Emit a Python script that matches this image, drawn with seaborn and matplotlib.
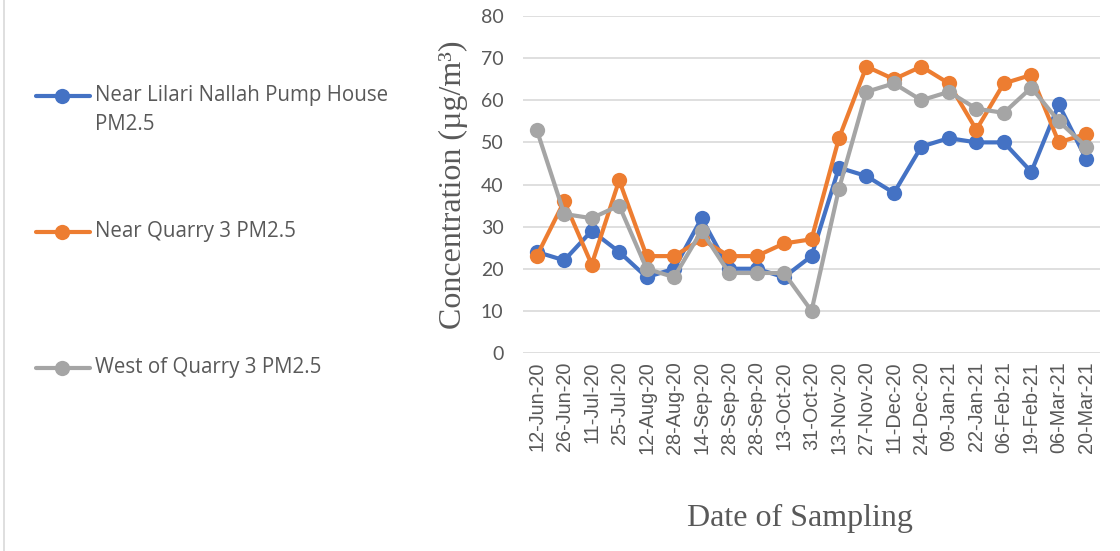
import pandas as pd
import matplotlib.pyplot as plt
from matplotlib.lines import Line2D
import seaborn as sns

# sampling dates (as printed on the chart, including the repeated 28-Sep-20)
dates = ['12-Jun-20', '26-Jun-20', '11-Jul-20', '25-Jul-20', '12-Aug-20',
         '28-Aug-20', '14-Sep-20', '28-Sep-20', '28-Sep-20', '13-Oct-20',
         '31-Oct-20', '13-Nov-20', '27-Nov-20', '11-Dec-20', '24-Dec-20',
         '09-Jan-21', '22-Jan-21', '06-Feb-21', '19-Feb-21', '06-Mar-21',
         '20-Mar-21']

lilari = [24, 22, 29, 24, 18, 20, 32, 20, 20, 18, 23,
          44, 42, 38, 49, 51, 50, 50, 43, 59, 46]
quarry3 = [23, 36, 21, 41, 23, 23, 27, 23, 23, 26, 27,
           51, 68, 65, 68, 64, 53, 64, 66, 50, 52]
west_quarry3 = [53, 33, 32, 35, 20, 18, 29, 19, 19, 19, 10,
                39, 62, 64, 60, 62, 58, 57, 63, 55, 49]

series_names = ['Near Lilari Nallah Pump House PM2.5',
                'Near Quarry 3 PM2.5',
                'West of Quarry 3 PM2.5']
colors = ['#4472C4', '#ED7D31', '#A5A5A5']

# long-form table for seaborn
frames = []
for name, vals in zip(series_names, [lilari, quarry3, west_quarry3]):
    frames.append(pd.DataFrame({'pos': range(len(dates)), 'value': vals, 'series': name}))
df = pd.concat(frames, ignore_index=True)

sns.set_style('white')
plt.rcParams['font.family'] = ['Liberation Sans', 'DejaVu Sans']

W, H = 1120, 551
fig = plt.figure(figsize=(W / 100, H / 100), dpi=100)
ax = fig.add_axes([523 / W, 1 - 353 / H, (1100 - 523) / W, (353 - 16) / H])

sns.lineplot(data=df, x='pos', y='value', hue='series', hue_order=series_names,
             palette=colors, marker='o', markersize=11, markeredgewidth=0,
             linewidth=3, legend=False, ax=ax, zorder=3)

ax.set_xlim(-0.5, len(dates) - 0.5)
ax.set_ylim(0, 80)
ax.set_yticks(range(0, 81, 10))
ax.set_xticks(range(len(dates)))
ax.set_xticklabels(dates, rotation=90)
ax.yaxis.grid(True, color='#D9D9D9', linewidth=1.2)
ax.xaxis.grid(False)
for s in ax.spines.values():
    s.set_visible(False)
ax.tick_params(axis='x', length=0, pad=6, labelsize=14.3, labelcolor='#595959')
ax.tick_params(axis='y', length=0, pad=14, labelsize=14, labelcolor='#595959')
for lbl in ax.get_yticklabels():
    lbl.set_family(['Lato', 'DejaVu Sans'])

ax.set_xlabel('Date of Sampling', family=['Liberation Serif'], fontsize=23,
              color='#595959', va='center')
ax.xaxis.set_label_coords((800 - 523) / 577, (353 - 518) / 337)
ax.set_ylabel('Concentration (µg/m³)', family=['Liberation Serif'], fontsize=23,
              color='#595959', labelpad=9)

# chart border on the left
fig.add_artist(Line2D([4 / W, 4 / W], [0, 1], color='#D9D9D9', linewidth=1.2))

# legend, laid out like the spreadsheet legend on the left side
legend_rows = [(96, ['Near Lilari Nallah Pump House', 'PM2.5']),
               (232, ['Near Quarry 3 PM2.5']),
               (368, ['West of Quarry 3 PM2.5'])]
for (ypix, lines), c in zip(legend_rows, colors):
    y = 1 - ypix / H
    fig.add_artist(Line2D([36 / W, 90 / W], [y, y], color=c, linewidth=3,
                          solid_capstyle='round'))
    fig.add_artist(Line2D([62 / W], [y], color=c, marker='o', markersize=11,
                          markeredgewidth=0))
    for k, text in enumerate(lines):
        fig.text(95 / W, 1 - (ypix + 28 * k) / H, text, ha='left', va='center',
                 fontsize=14.8, color='#595959', family=['Open Sans', 'DejaVu Sans'])

fig.savefig('out.png', dpi=100)
